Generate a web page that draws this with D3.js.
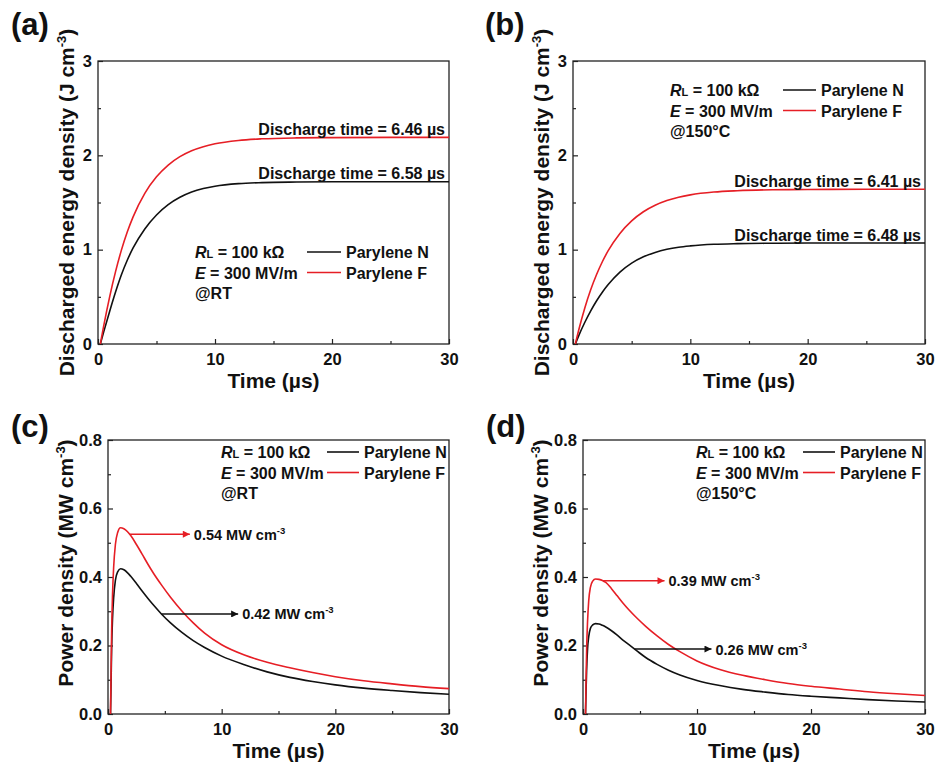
<!DOCTYPE html>
<html>
<head>
<meta charset="utf-8">
<script src="https://cdn.jsdelivr.net/npm/d3@7"></script>
<style>
  body { margin: 0; background: #fff; }
  svg { display: block; }
  text { font-family: "Liberation Sans", Arial, Helvetica, sans-serif; font-weight: bold; fill: #111; }
</style>
</head>
<body>
<svg id="fig" width="936" height="767"></svg>
<script>
// ---- Discharged energy density (J cm^-3) versus time (µs) ----
const energyTime  = [0.2, 0.5, 1, 1.5, 2, 2.5, 3, 4, 5, 6, 7, 8, 9, 10, 12, 14, 17, 20, 25, 30];
const energyN_RT  = [0, 0.134, 0.348, 0.551, 0.734, 0.888, 1.018, 1.22, 1.368, 1.477, 1.555, 1.611, 1.648, 1.673, 1.7, 1.711, 1.717, 1.72, 1.72, 1.72];
const energyF_RT  = [0, 0.2, 0.503, 0.767, 0.995, 1.187, 1.348, 1.597, 1.772, 1.897, 1.986, 2.049, 2.092, 2.123, 2.158, 2.175, 2.185, 2.188, 2.19, 2.19];
const energyN_150 = [0, 0.092, 0.228, 0.349, 0.456, 0.549, 0.63, 0.762, 0.857, 0.924, 0.971, 1.004, 1.026, 1.04, 1.057, 1.064, 1.068, 1.07, 1.07, 1.07];
const energyF_150 = [0, 0.154, 0.38, 0.572, 0.734, 0.872, 0.989, 1.172, 1.305, 1.402, 1.471, 1.521, 1.556, 1.581, 1.611, 1.625, 1.635, 1.638, 1.64, 1.64];

// ---- Power density (MW cm^-3) versus time (µs) ----
const powerTime  = [0.22, 0.27, 0.32, 0.4, 0.5, 0.65, 0.85, 1.1, 1.4, 1.7, 2, 2.5, 3, 3.5, 4, 4.7, 5.5, 6.5, 7.5, 8.5, 10, 12, 14, 16, 18, 20, 22.5, 25, 27.5, 30];
const powerN_RT  = [0, 0.09, 0.19, 0.28, 0.34, 0.39, 0.415, 0.424, 0.421, 0.413, 0.402, 0.381, 0.359, 0.338, 0.318, 0.292, 0.266, 0.238, 0.214, 0.194, 0.169, 0.144, 0.123, 0.107, 0.095, 0.085, 0.0755, 0.0685, 0.0625, 0.0575];
const powerF_RT  = [0, 0.12, 0.24, 0.35, 0.43, 0.495, 0.53, 0.544, 0.541, 0.533, 0.521, 0.495, 0.467, 0.438, 0.411, 0.377, 0.341, 0.301, 0.266, 0.236, 0.202, 0.172, 0.151, 0.135, 0.121, 0.109, 0.097, 0.088, 0.08, 0.074];
const powerN_150 = [0, 0.07, 0.13, 0.19, 0.225, 0.25, 0.26, 0.264, 0.263, 0.259, 0.254, 0.243, 0.23, 0.216, 0.203, 0.185, 0.165, 0.145, 0.128, 0.114, 0.098, 0.083, 0.072, 0.064, 0.057, 0.052, 0.047, 0.042, 0.038, 0.035];
const powerF_150 = [0, 0.1, 0.19, 0.27, 0.33, 0.37, 0.388, 0.394, 0.393, 0.39, 0.384, 0.366, 0.345, 0.324, 0.305, 0.281, 0.256, 0.228, 0.203, 0.182, 0.155, 0.13, 0.113, 0.1, 0.089, 0.081, 0.073, 0.065, 0.059, 0.054];

// ---- Discharge times (µs), order: Parylene N, Parylene F ----
const dischargeTimeRT  = [6.58, 6.46];
const dischargeTime150 = [6.48, 6.41];

// ---- Axis ticks ----
const timeTicks        = [0, 10, 20, 30];
const timeMinorTicks   = [5, 15, 25];
const energyTicks      = [0, 1, 2, 3];
const energyMinorTicks = [0.5, 1.5, 2.5];
const powerTicks       = [0, 0.2, 0.4, 0.6, 0.8];
const powerMinorTicks  = [0.1, 0.3, 0.5, 0.7];

const seriesNames = ["Parylene N", "Parylene F"];
const RED = "#e61e25", BLACK = "#111";
const seriesColors = [BLACK, RED];

const svg = d3.select("#fig");
svg.append("rect").attr("width", 936).attr("height", 767).attr("fill", "#fff");

const panels = [
  { tag: "(a)", tagX: 11, tagY: 35, x0: 98, x1: 449, y0: 61, y1: 344, kind: "energy",
    time: energyTime, series: [energyN_RT, energyF_RT], cond: "@RT", times: dischargeTimeRT,
    legend: { x: 195, y: 258, lineX0: 307, lineX1: 341, nameX: 346 } },
  { tag: "(b)", tagX: 485, tagY: 35, x0: 573, x1: 925, y0: 61, y1: 344, kind: "energy",
    time: energyTime, series: [energyN_150, energyF_150], cond: "@150°C", times: dischargeTime150,
    legend: { x: 670, y: 96, lineX0: 783, lineX1: 816, nameX: 821 } },
  { tag: "(c)", tagX: 11, tagY: 437, x0: 108, x1: 449, y0: 440, y1: 714, kind: "power",
    time: powerTime, series: [powerN_RT, powerF_RT], cond: "@RT",
    arrows: [{ s: 1, from: 1.9, to: 7.2 }, { s: 0, from: 4.7, to: 11.45 }],
    legend: { x: 221, y: 458, lineX0: 327, lineX1: 359, nameX: 364 } },
  { tag: "(d)", tagX: 486, tagY: 437, x0: 583, x1: 925, y0: 440, y1: 714, kind: "power",
    time: powerTime, series: [powerN_150, powerF_150], cond: "@150°C",
    arrows: [{ s: 1, from: 1.75, to: 7.15 }, { s: 0, from: 4.52, to: 11.27 }],
    legend: { x: 696, y: 458, lineX0: 803, lineX1: 835, nameX: 840 } }
];

// arrowhead marker for each colour
const defs = svg.append("defs");
[["arrBlack", BLACK], ["arrRed", RED]].forEach(([id, c]) => {
  defs.append("marker").attr("id", id).attr("viewBox", "0 0 10 10")
    .attr("refX", 10).attr("refY", 5).attr("markerWidth", 9).attr("markerHeight", 7)
    .attr("markerUnits", "userSpaceOnUse").attr("orient", "auto")
    .append("path").attr("d", "M0,0 L10,5 L0,10 Z").attr("fill", c);
});

// linear interpolation of a series at time t
function interp(ts, vs, t) {
  for (let i = 1; i < ts.length; i++) {
    if (t <= ts[i]) {
      const f = (t - ts[i - 1]) / (ts[i] - ts[i - 1]);
      return vs[i - 1] + f * (vs[i] - vs[i - 1]);
    }
  }
  return vs[vs.length - 1];
}

panels.forEach(p => {
  const g = svg.append("g");
  const isE = p.kind === "energy";
  const x = d3.scaleLinear().domain([0, 30]).range([p.x0, p.x1]);
  const y = d3.scaleLinear().domain(isE ? [0, 3] : [0, 0.8]).range([p.y1, p.y0]);

  // minor ticks (inward)
  g.append("g").attr("transform", `translate(0,${p.y1})`)
    .call(d3.axisBottom(x).tickValues(timeMinorTicks).tickSizeInner(-3).tickSizeOuter(0).tickFormat(""));
  g.append("g").attr("transform", `translate(${p.x0},0)`)
    .call(d3.axisLeft(y).tickValues(isE ? energyMinorTicks : powerMinorTicks).tickSizeInner(-3).tickSizeOuter(0).tickFormat(""));

  // major ticks with labels
  const xa = g.append("g").attr("transform", `translate(0,${p.y1})`)
    .call(d3.axisBottom(x).tickValues(timeTicks).tickSizeInner(-5).tickSizeOuter(0).tickPadding(9).tickFormat(d3.format("d")));
  const ya = g.append("g").attr("transform", `translate(${p.x0},0)`)
    .call(d3.axisLeft(y).tickValues(isE ? energyTicks : powerTicks).tickSizeInner(-5).tickSizeOuter(0).tickPadding(6)
      .tickFormat(isE ? d3.format("d") : d3.format(".1f")));
  g.selectAll(".domain").remove();
  g.selectAll(".tick line").attr("stroke", "#222").attr("stroke-width", 1.2);
  [xa, ya].forEach(a => a.selectAll("text").attr("font-size", 16.5).attr("fill", "#111")
    .style("font-family", '"Liberation Sans", Arial, sans-serif').style("font-weight", "bold"));

  // frame
  g.append("rect").attr("x", p.x0).attr("y", p.y0).attr("width", p.x1 - p.x0).attr("height", p.y1 - p.y0)
    .attr("fill", "none").attr("stroke", "#222").attr("stroke-width", 1.3);

  // curves
  const line = d3.line().x(d => x(d[0])).y(d => y(d[1])).curve(d3.curveMonotoneX);
  p.series.forEach((vals, i) => {
    g.append("path").datum(p.time.map((t, k) => [t, vals[k]]))
      .attr("d", line).attr("fill", "none").attr("stroke", seriesColors[i]).attr("stroke-width", 1.6);
  });

  // panel tag
  svg.append("text").attr("x", p.tagX).attr("y", p.tagY).attr("font-size", 31).text(p.tag);

  // axis titles
  svg.append("text").attr("x", (p.x0 + p.x1) / 2).attr("y", p.y1 + 44).attr("text-anchor", "middle")
    .attr("font-size", 21).text("Time (µs)");
  const yt = svg.append("text")
    .attr("transform", `translate(${p.x0 - (isE ? 24.5 : 35.5)},${(p.y0 + p.y1) / 2 - (isE ? 0 : 14)}) rotate(-90)`)
    .attr("text-anchor", "middle").attr("font-size", 21);
  yt.append("tspan").text(isE ? "Discharged energy density (J cm" : "Power density (MW cm");
  yt.append("tspan").attr("font-size", 13).attr("dy", -8).text("-3");
  yt.append("tspan").attr("dy", 8).text(")");

  // legend block
  const L = p.legend;
  const r1 = svg.append("text").attr("x", L.x).attr("y", L.y).attr("font-size", 16);
  r1.append("tspan").attr("font-style", "italic").text("R");
  r1.append("tspan").attr("font-size", 11).text("L");
  r1.append("tspan").text(" = 100 kΩ");
  const r2 = svg.append("text").attr("x", L.x).attr("y", L.y + 20.5).attr("font-size", 16);
  r2.append("tspan").attr("font-style", "italic").text("E");
  r2.append("tspan").text(" = 300 MV/m");
  svg.append("text").attr("x", L.x).attr("y", L.y + 41).attr("font-size", 16).text(p.cond);
  seriesNames.forEach((n, i) => {
    const yy = L.y + i * 20.5;
    svg.append("line").attr("x1", L.lineX0).attr("x2", L.lineX1).attr("y1", yy - 6).attr("y2", yy - 6)
      .attr("stroke", seriesColors[i]).attr("stroke-width", 1.6);
    svg.append("text").attr("x", L.nameX).attr("y", yy).attr("font-size", 16).text(n);
  });

  if (isE) {
    // discharge-time labels sitting on each plateau
    p.series.forEach((vals, i) => {
      const t = svg.append("text").attr("x", p.x1 - 4).attr("y", y(vals[vals.length - 1]) - 2.5)
        .attr("text-anchor", "end").attr("font-size", 16).attr("fill", seriesColors[i]);
      t.append("tspan").text(`Discharge time = ${d3.format(".2f")(p.times[i])} `);
      t.append("tspan").text("µs");
    });
  } else {
    // peak power labels with arrows
    p.arrows.forEach(a => {
      const vals = p.series[a.s];
      const v = interp(p.time, vals, a.from);
      const c = seriesColors[a.s];
      svg.append("line").attr("x1", x(a.from)).attr("x2", x(a.to)).attr("y1", y(v)).attr("y2", y(v))
        .attr("stroke", c).attr("stroke-width", 1.4)
        .attr("marker-end", `url(#${a.s ? "arrRed" : "arrBlack"})`);
      const peak = d3.max(vals);
      const t = svg.append("text").attr("x", x(a.to) + 4).attr("y", y(v) + 5.5)
        .attr("font-size", 14.5).attr("fill", c);
      t.append("tspan").text(`${d3.format(".2f")(peak)} MW cm`);
      t.append("tspan").attr("font-size", 9.5).attr("dy", -6).text("-3");
    });
  }
});
</script>
</body>
</html>
